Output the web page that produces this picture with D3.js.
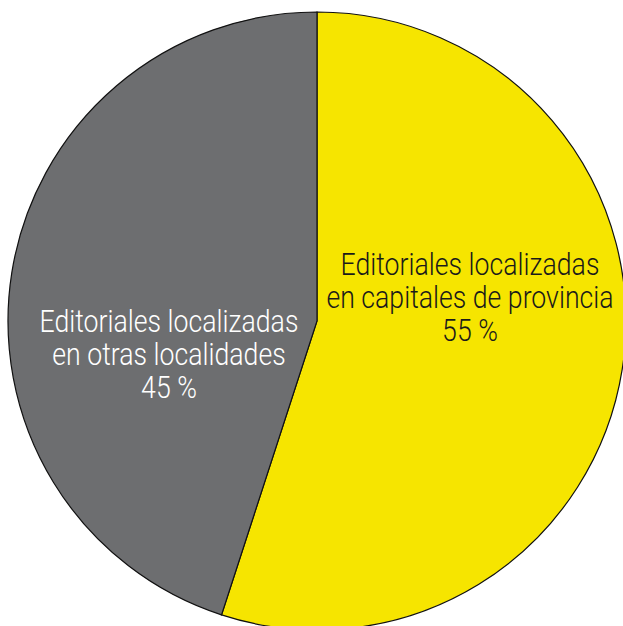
<!DOCTYPE html>
<html>
<head>
<meta charset="utf-8">
<script src="https://cdn.jsdelivr.net/npm/d3@7"></script>
<style>
  body { margin: 0; background: #ffffff; overflow: hidden; }
  text { font-family: Roboto, "DejaVu Sans Condensed", sans-serif; font-weight: 300; }
</style>
</head>
<body>
<script>
//chart data
var categories = ["Editoriales localizadas en capitales de provincia", "Editoriales localizadas en otras localidades"];
var values = [55, 45];
var labelLines = [
    ["Editoriales localizadas", "en capitales de provincia", "55 %"],
    ["Editoriales localizadas", "en otras localidades", "45 %"]
];
var colors = ["#f6e500", "#6d6e70"];
var textColors = ["#1a1a1a", "#ffffff"];

//frame dimensions
var width = 623,
    height = 626;

var cx = 317, cy = 321, radius = 309;

var svg = d3.select("body")
    .append("svg")
    .attr("width", width)
    .attr("height", height);

var g = svg.append("g")
    .attr("transform", "translate(" + cx + "," + cy + ")");

//pie layout, clockwise from 12 o'clock, keep data order
var pie = d3.pie()
    .sort(null)
    .value(function(d){ return d; });

var arc = d3.arc()
    .innerRadius(0)
    .outerRadius(radius);

var arcs = pie(values);

g.selectAll(".slice")
    .data(arcs)
    .enter()
    .append("path")
    .attr("class", "slice")
    .attr("d", arc)
    .attr("fill", function(d, i){ return colors[i]; })
    .attr("stroke", "#111")
    .attr("stroke-width", 1.2);

//label positions (relative to centre) and condensed look
var labelPos = [[153, -46], [-148, 11]];
var firstLineWidth = 259;

var labels = g.selectAll(".label")
    .data(arcs)
    .enter()
    .append("g")
    .attr("class", "label")
    .attr("transform", function(d, i){
        return "translate(" + labelPos[i][0] + "," + labelPos[i][1] + ")";
    })
    .append("text")
    .attr("text-anchor", "middle")
    .attr("fill", function(d, i){ return textColors[i]; })
    .style("font-size", "32px");

labels.selectAll("tspan")
    .data(function(d, i){ return labelLines[i]; })
    .enter()
    .append("tspan")
    .attr("x", 0)
    .attr("y", function(d, j){ return j * 33; })
    .text(function(d){ return d; });

//squeeze text horizontally so it reads like a condensed face
labels.each(function(){
    var first = d3.select(this).select("tspan").node();
    var w = first.getComputedTextLength();
    d3.select(this).attr("transform", "scale(" + (firstLineWidth / w) + ",1)");
});
</script>
</body>
</html>
